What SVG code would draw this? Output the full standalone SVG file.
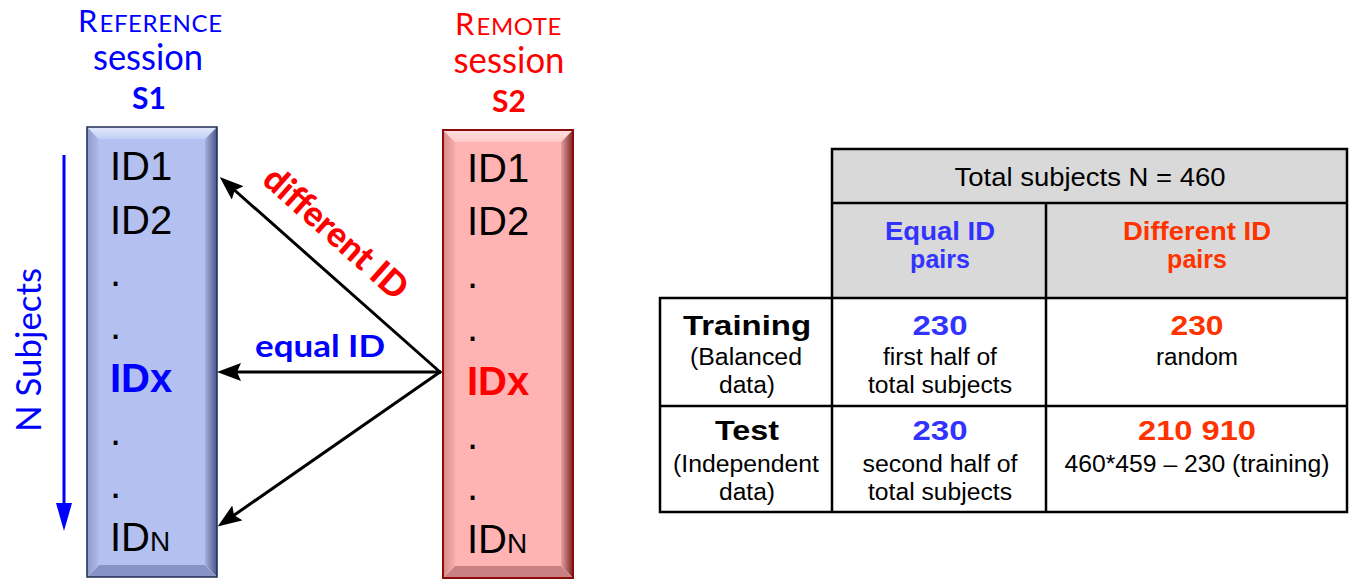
<svg xmlns="http://www.w3.org/2000/svg" width="1351" height="579" viewBox="0 0 1351 579">
<style>
.ttl{font-family:Lato,"Open Sans",sans-serif}
.sc{font-size:24px;letter-spacing:0.6px}
.id{font-family:"Liberation Sans",Arial,sans-serif;font-size:40px;fill:#000}
.id.xb{fill:#0000ff;font-weight:bold}
.id.xr{fill:#ff0000;font-weight:bold}
.tb{font-family:"Liberation Sans",Arial,sans-serif;fill:#000;text-anchor:middle}
.reg{font-size:23px}
.bold{font-weight:bold}
.tb.blu{fill:#3333ff}
.tb.org{fill:#ff3300}
.grid{fill:none;stroke:#000;stroke-width:2.5}
.conn{stroke:#000;stroke-width:3;fill:none;stroke-linecap:round}
</style>
<defs>
<marker id="ah" markerUnits="userSpaceOnUse" markerWidth="26" markerHeight="18" refX="9" refY="9" orient="auto">
<path d="M0,0 L24,9 L0,18 L4,9 Z" fill="#000"/>
</marker>
<linearGradient id="bTop" x1="0" y1="0" x2="0" y2="1"><stop offset="0" stop-color="#e3e9fb"/><stop offset="1" stop-color="#c3cef4"/></linearGradient>
<linearGradient id="bRight" x1="0" y1="0" x2="1" y2="0"><stop offset="0" stop-color="#a3b0e0"/><stop offset="1" stop-color="#4b5688"/></linearGradient>
<linearGradient id="bLeft" x1="0" y1="0" x2="1" y2="0"><stop offset="0" stop-color="#8f9bcb"/><stop offset="1" stop-color="#b0bcec"/></linearGradient>
<linearGradient id="rTop" x1="0" y1="0" x2="0" y2="1"><stop offset="0" stop-color="#ffe0e0"/><stop offset="1" stop-color="#ffc8c8"/></linearGradient>
<linearGradient id="rRight" x1="0" y1="0" x2="1" y2="0"><stop offset="0" stop-color="#e8a0a0"/><stop offset="1" stop-color="#7a2222"/></linearGradient>
<linearGradient id="rLeft" x1="0" y1="0" x2="1" y2="0"><stop offset="0" stop-color="#d68a8a"/><stop offset="1" stop-color="#f9acac"/></linearGradient>
</defs>

<g id="title-reference">
<text class="ttl" fill="#0000ff" font-size="31" x="78" y="32">R<tspan class="sc" dx="2">EFERENCE</tspan></text>
<text class="ttl" fill="#0000ff" font-size="37" x="148" y="70" text-anchor="middle" textLength="110" lengthAdjust="spacingAndGlyphs">session</text>
<text class="ttl" fill="#0000ff" font-size="30" font-weight="bold" x="149" y="109" text-anchor="middle">S1</text>
</g>

<g id="title-remote">
<text class="ttl" fill="#ff0000" font-size="31" x="455" y="35">R<tspan class="sc" dx="2">EMOTE</tspan></text>
<text class="ttl" fill="#ff0000" font-size="37" x="509" y="73" text-anchor="middle" textLength="111" lengthAdjust="spacingAndGlyphs">session</text>
<text class="ttl" fill="#ff0000" font-size="30" font-weight="bold" x="509" y="112" text-anchor="middle">S2</text>
</g>

<g id="n-subjects">
<line x1="64" y1="155" x2="64" y2="506" stroke="#0000ff" stroke-width="3"/>
<path d="M56,503 L72,503 L64,531 Z" fill="#0000ff"/>
<text class="ttl" fill="#0000ff" font-size="34" transform="translate(41,350) rotate(-90)" text-anchor="middle" textLength="164" lengthAdjust="spacingAndGlyphs">N Subjects</text>
</g>

<g id="session-s1">
<rect x="99" y="139" width="106" height="426" fill="#b4c1f0"/>
<path d="M87,127 L217,127 L205,139 L99,139 Z" fill="url(#bTop)"/>
<path d="M87,127 L99,139 L99,565 L87,577 Z" fill="url(#bLeft)"/>
<path d="M217,127 L217,577 L205,565 L205,139 Z" fill="url(#bRight)"/>
<path d="M87,577 L217,577 L205,565 L99,565 Z" fill="#8793c4"/>
<rect x="87" y="127" width="130" height="450" fill="none" stroke="#1f2a55" stroke-width="1.5"/>
<text class="id" x="110" y="180">ID1</text>
<text class="id" x="110" y="234">ID2</text>
<text class="id" x="110" y="286">.</text>
<text class="id" x="110" y="339">.</text>
<text class="id xb" x="110" y="392">IDx</text>
<text class="id" x="110" y="445">.</text>
<text class="id" x="110" y="498">.</text>
<text class="id" x="110" y="551">ID<tspan font-size="28">N</tspan></text>
</g>

<g id="session-s2">
<rect x="455" y="142" width="106" height="424" fill="#ffb3b3"/>
<path d="M443,130 L573,130 L561,142 L455,142 Z" fill="url(#rTop)"/>
<path d="M443,130 L455,142 L455,566 L443,578 Z" fill="url(#rLeft)"/>
<path d="M573,130 L573,578 L561,566 L561,142 Z" fill="url(#rRight)"/>
<path d="M443,578 L573,578 L561,566 L455,566 Z" fill="#c98080"/>
<rect x="443" y="130" width="130" height="448" fill="none" stroke="#8b0a0a" stroke-width="2"/>
<text class="id" x="467" y="182">ID1</text>
<text class="id" x="467" y="235">ID2</text>
<text class="id" x="467" y="288">.</text>
<text class="id" x="467" y="341">.</text>
<text class="id xr" x="467" y="395">IDx</text>
<text class="id" x="467" y="449">.</text>
<text class="id" x="467" y="500">.</text>
<text class="id" x="467" y="553">ID<tspan font-size="28">N</tspan></text>
</g>

<g id="connectors">
<line class="conn" x1="440" y1="372" x2="231" y2="187" marker-end="url(#ah)"/>
<line class="conn" x1="440" y1="372" x2="232" y2="372" marker-end="url(#ah)"/>
<line class="conn" x1="440" y1="372" x2="230" y2="518" marker-end="url(#ah)"/>
<text class="ttl" fill="#ff0000" font-size="35" font-weight="900" text-anchor="middle" transform="translate(328,242) rotate(41.6)" textLength="180" lengthAdjust="spacingAndGlyphs">different ID</text>
<text class="ttl" fill="#0000ff" font-size="30" font-weight="bold" x="320" y="357" text-anchor="middle" textLength="130" lengthAdjust="spacingAndGlyphs">equal ID</text>
</g>

<g id="table">
<rect x="832" y="149" width="515" height="149" fill="#d9d9d9"/>
<path class="grid" d="M832,149 H1347 V512 H660 V298 H832 Z M832,149 V512 M832,203 H1347 M1046,203 V512 M660,298 H1347 M660,406 H1347"/>
<text class="tb" x="1090" y="186" font-size="25" textLength="271" lengthAdjust="spacingAndGlyphs">Total subjects N = 460</text>
<text class="tb bold blu" x="940" y="240" font-size="25" textLength="110" lengthAdjust="spacingAndGlyphs">Equal ID</text>
<text class="tb bold blu" x="940" y="268" font-size="25">pairs</text>
<text class="tb bold org" x="1197" y="240" font-size="25" textLength="148" lengthAdjust="spacingAndGlyphs">Different ID</text>
<text class="tb bold org" x="1197" y="268" font-size="25">pairs</text>

<text class="tb bold" x="747" y="335" font-size="28" textLength="128" lengthAdjust="spacingAndGlyphs">Training</text>
<text class="tb reg" x="746" y="365" textLength="112" lengthAdjust="spacingAndGlyphs">(Balanced</text>
<text class="tb reg" x="747" y="393" textLength="56" lengthAdjust="spacingAndGlyphs">data)</text>
<text class="tb bold blu" x="940" y="335" font-size="28" textLength="55" lengthAdjust="spacingAndGlyphs">230</text>
<text class="tb reg" x="940" y="365" textLength="114" lengthAdjust="spacingAndGlyphs">first half of</text>
<text class="tb reg" x="940" y="393" textLength="144" lengthAdjust="spacingAndGlyphs">total subjects</text>
<text class="tb bold org" x="1197" y="335" font-size="28" textLength="53" lengthAdjust="spacingAndGlyphs">230</text>
<text class="tb reg" x="1197" y="365" textLength="82" lengthAdjust="spacingAndGlyphs">random</text>

<text class="tb bold" x="747" y="440" font-size="28" textLength="64" lengthAdjust="spacingAndGlyphs">Test</text>
<text class="tb reg" x="746" y="472" textLength="146" lengthAdjust="spacingAndGlyphs">(Independent</text>
<text class="tb reg" x="747" y="500" textLength="56" lengthAdjust="spacingAndGlyphs">data)</text>
<text class="tb bold blu" x="940" y="440" font-size="28" textLength="55" lengthAdjust="spacingAndGlyphs">230</text>
<text class="tb reg" x="940" y="472" textLength="155" lengthAdjust="spacingAndGlyphs">second half of</text>
<text class="tb reg" x="940" y="500" textLength="144" lengthAdjust="spacingAndGlyphs">total subjects</text>
<text class="tb bold org" x="1197" y="440" font-size="28" textLength="118" lengthAdjust="spacingAndGlyphs">210 910</text>
<text class="tb reg" x="1197" y="472" textLength="265" lengthAdjust="spacingAndGlyphs">460*459 – 230 (training)</text>
</g>
</svg>
